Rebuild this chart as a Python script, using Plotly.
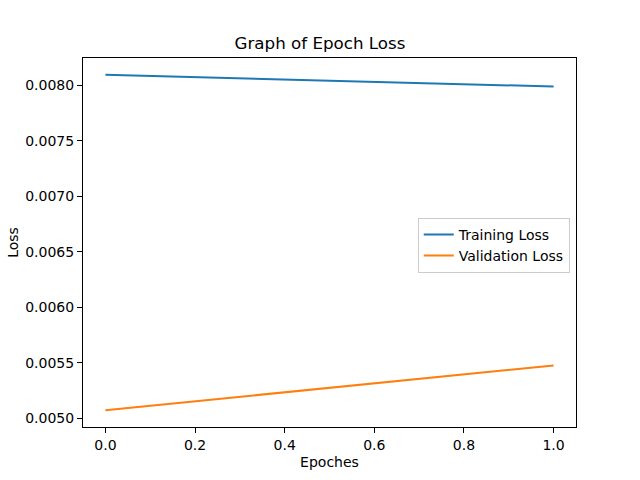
import plotly.graph_objects as go

# ----------- data --------------------------------
epochs = [0, 1]
training_loss = [0.008096, 0.007990]
validation_loss = [0.005071, 0.005475]
y_ticks = [0.0050, 0.0055, 0.0060, 0.0065, 0.0070, 0.0075, 0.0080]
x_ticks = [0.0, 0.2, 0.4, 0.6, 0.8, 1.0]
# -------------------------------------------------

font = "DejaVu Sans"

fig = go.Figure()
fig.add_trace(go.Scatter(x=epochs, y=training_loss, mode="lines",
                         line=dict(color="#1f77b4", width=2), name="Training Loss"))
fig.add_trace(go.Scatter(x=epochs, y=validation_loss, mode="lines",
                         line=dict(color="#ff7f0e", width=2), name="Validation Loss"))

# matplotlib style 5% margins around the data
y_lo = min(validation_loss + training_loss)
y_hi = max(validation_loss + training_loss)
pad = (y_hi - y_lo) * 0.05

axis_style = dict(showline=True, linecolor="black", linewidth=1, mirror=True,
                  ticks="outside", ticklen=5, tickcolor="black", showgrid=False,
                  zeroline=False, tickfont=dict(size=14, color="black"))

fig.update_layout(
    width=640, height=480,
    paper_bgcolor="white", plot_bgcolor="white",
    font=dict(family=font, color="black"),
    margin=dict(l=80, r=64, t=58, b=53),
    title=dict(text="Graph of Epoch Loss", x=0.5, xanchor="center",
               y=1 - 43 / 480, yanchor="middle", font=dict(size=16.7)),
    xaxis=dict(range=[-0.05, 1.05], tickvals=x_ticks, tickformat=".1f",
               title=dict(text="Epoches", font=dict(size=14), standoff=5), **axis_style),
    yaxis=dict(range=[y_lo - pad, y_hi + pad], tickvals=y_ticks, tickformat=".4f",
               title=dict(text="Loss", font=dict(size=14), standoff=3), **axis_style),
    legend=dict(x=0.679, y=0.567, xanchor="left", yanchor="top",
                bordercolor="#cccccc", borderwidth=1, bgcolor="rgba(255,255,255,0.8)",
                font=dict(size=14), itemwidth=30, tracegroupgap=0),
    showlegend=True,
)

# page body has a default 8px margin; drop it so the figure sits at the corner
fig.write_html("out.html", config={"displayModeBar": False},
               post_script="document.body.style.margin='0';")
